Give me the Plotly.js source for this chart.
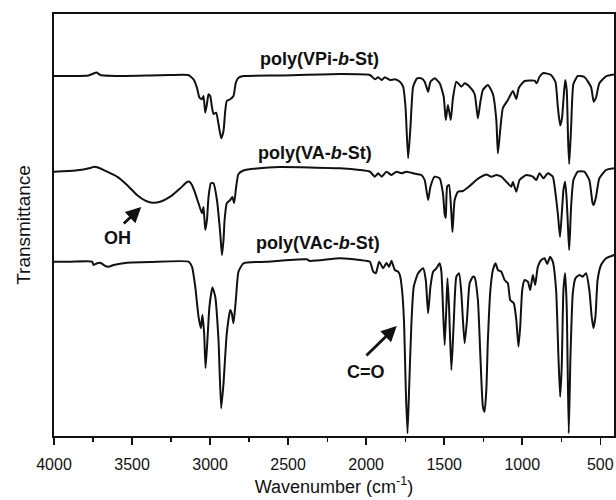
<!DOCTYPE html>
<html>
<head>
<meta charset="utf-8">
<script src="https://cdn.plot.ly/plotly-3.0.1.min.js"></script>
<style>html,body{margin:0;padding:0;background:#fff;}#chart{width:616px;height:500px;}</style>
</head>
<body>
<div id="chart"></div>
<script>
// Wavenumbers (cm-1) and transmittance (arbitrary, stacked) for each spectrum
const vpiWavenumber = [4000,3895,3779,3747,3728,3703,3575,3383,3255,3140,3106,3084,3068,3052,3042,3031,3020,3010,2999,2989,2978,2961,2946,2929,2914,2903,2893,2871,2850,2835,2818,2786,2552,2168,1976,1944,1923,1901,1880,1848,1816,1784,1763,1748,1731,1716,1699,1674,1646,1625,1603,1588,1561,1529,1503,1490,1476,1458,1444,1422,1390,1369,1337,1305,1284,1268,1252,1220,1188,1166,1156,1141,1124,1092,1060,1038,1022,985,921,907,889,864,815,787,772,757,745,736,725,715,706,699,687,672,644,602,559,542,527,506,463,410];
const vpiT = [360,360,360.5,362.5,363.5,361,360,360.5,361,361,356.7,348.3,338.3,336.7,340,323.3,332,341.7,340,330,322,323.3,312,297.7,305,325,335,336.7,340,353.3,358.3,360,360.5,362,361,356.7,358.7,356,358.7,356,356.7,354.3,349.3,329.3,277.7,309.3,349.3,357.7,357.7,354.3,344.3,354.3,357.7,352.7,339.3,316,331,316,337.7,354.3,349.3,352.7,349.3,342,317.7,334.3,346,351,342,316,282.7,306,328,336,345,337,348,355,355.3,352.7,359.3,363,361,354,329.3,310.5,318,336,356,346,296,272,308,352,360,359,349,334.3,338.5,352.7,359.7,361.5];

const vaWavenumber = [4000,3862,3767,3741,3722,3660,3596,3532,3468,3415,3372,3319,3255,3191,3148,3134,3116,3095,3074,3052,3042,3031,3020,3010,2995,2978,2956,2935,2924,2914,2907,2893,2871,2857,2846,2833,2818,2786,2701,2552,2168,2040,1976,1944,1923,1901,1870,1838,1806,1774,1742,1699,1646,1625,1603,1588,1561,1529,1508,1497,1490,1481,1469,1454,1447,1433,1412,1380,1337,1294,1262,1230,1198,1166,1134,1102,1070,1060,1038,1017,974,932,910,889,864,836,804,787,771,758,745,736,725,715,706,699,687,672,644,602,570,549,542,527,506,463,410];
const vaT = [264.3,265.5,268,269.3,268.7,264.3,259.3,251,241,235.3,233.3,234.3,239.3,247.7,254,254.5,251,242.7,232.7,222.7,229,206,216,239,252.7,252.7,236,203,181,196,216,232.7,236,239,232.7,249,262,265.5,267.5,269,267.7,266,264.3,259.3,262.7,259.3,264.3,261,264.3,262.7,264.3,262.7,261,256,236,249.3,259.3,257.7,242.7,222,218,249.3,251,222.7,204,236,244.3,245,250,256,259.3,261.5,259.3,261,259.3,254.3,249.3,254,244.3,256,261,259.3,256,262.7,257.7,262.7,259.3,242.7,221,199,226,246,254.3,236,206,186,229,256,264.3,264.3,256,232.7,231,239.3,257.7,266,267.7];

const vacWavenumber = [4000,3894,3756,3746,3724,3703,3671,3650,3618,3532,3383,3138,3116,3095,3074,3059,3049,3038,3029,3017,3004,2985,2967,2946,2929,2914,2893,2871,2861,2850,2835,2818,2786,2637,2381,2360,2168,2040,1976,1955,1938,1917,1891,1870,1853,1838,1816,1795,1784,1770,1757,1746,1735,1725,1710,1695,1667,1635,1618,1603,1588,1571,1550,1529,1518,1508,1497,1486,1479,1469,1454,1439,1422,1405,1390,1380,1369,1354,1337,1316,1305,1284,1268,1252,1241,1230,1220,1204,1188,1171,1156,1134,1113,1092,1077,1054,1038,1024,1013,1000,985,964,949,932,917,900,878,857,840,821,804,783,768,757,747,736,725,715,702,691,676,659,633,612,591,570,555,544,531,517,495,463,410];
const vacT = [174.3,174.3,174.3,171,172.7,173.3,170,169.3,171,173.3,174,174.3,169.3,149.3,119.3,107.7,121,102.7,68,96,129.3,148.5,139.3,96,27.7,52.7,102.7,126,122.7,112.7,136,164.3,172.7,174.3,176.7,175,177.7,176,174.3,164.3,162.7,174.3,167.7,173,169.3,175.3,166,164.3,161,146,112.7,46,2.7,46,112.7,149.3,162.7,167.7,156,122.7,149.3,164.3,167.7,172.7,164.3,129.3,91,129.3,157.7,129.3,66,112.7,159.3,162.7,142.7,116,92.7,116,152.7,159.3,158.7,136,79.3,29.3,24.3,46,96,146,166,172.7,166,164.3,156,152.7,136,132.7,116,89.3,109.3,146,156,154.3,146,161,151,169.3,176,177.7,172,179.3,174.3,146,79.3,39.3,69.3,146,162.7,129.3,2.7,79.3,142.7,157.7,161,159.3,162.7,146,119.3,107.7,119.3,156,171,177.7,181];

const seriesLabels = ['poly(VPi-<i>b</i>-St)', 'poly(VA-<i>b</i>-St)', 'poly(VAc-<i>b</i>-St)'];
const labelWavenumber = [2302, 2325, 2309];
const labelT = [377, 283, 193];
const bandLabels = ['OH', 'C=O'];
const bandLabelWavenumber = [3594, 2002];
const bandLabelT = [198, 64];
const arrowHeadWavenumber = [3441, 1804];
const arrowHeadT = [229, 110];
const arrowTailWavenumber = [3562, 2008];
const arrowTailT = [211, 79];

const FONT = 'Liberation Sans, Arial, Helvetica, sans-serif';
const lineStyle = {color: '#111', width: 2, shape: 'spline', smoothing: 0.5};

const traces = [
  {x: vpiWavenumber, y: vpiT, mode: 'lines', line: lineStyle, name: 'VPi'},
  {x: vaWavenumber, y: vaT, mode: 'lines', line: lineStyle, name: 'VA'},
  {x: vacWavenumber, y: vacT, mode: 'lines', line: lineStyle, name: 'VAc'}
];

const annotations = [];
seriesLabels.forEach((t, i) => annotations.push({
  x: labelWavenumber[i], y: labelT[i], xref: 'x', yref: 'y', text: '<b>' + t + '</b>',
  showarrow: false, font: {family: FONT, size: 18, color: '#111'}
}));
bandLabels.forEach((t, i) => {
  annotations.push({
    x: bandLabelWavenumber[i], y: bandLabelT[i], xref: 'x', yref: 'y', text: '<b>' + t + '</b>',
    showarrow: false, font: {family: FONT, size: 18, color: '#111'}
  });
  annotations.push({
    x: arrowHeadWavenumber[i], y: arrowHeadT[i], ax: arrowTailWavenumber[i], ay: arrowTailT[i],
    xref: 'x', yref: 'y', axref: 'x', ayref: 'y', text: '', showarrow: true,
    arrowhead: 2, arrowsize: 1.1, arrowwidth: 2.8, arrowcolor: '#111'
  });
});

const layout = {
  width: 616, height: 500,
  margin: {l: 54, r: 2, t: 14, b: 64},
  paper_bgcolor: '#fff', plot_bgcolor: '#fff',
  showlegend: false,
  font: {family: FONT, color: '#111'},
  xaxis: {
    range: [4000, 412], tick0: 0, dtick: 500,
    showline: true, mirror: true, linecolor: '#111', linewidth: 2,
    ticks: 'outside', ticklen: 7, tickwidth: 1.5, tickcolor: '#111',
    minor: {dtick: 250, ticks: 'outside', ticklen: 4, tickwidth: 1.2, tickcolor: '#111'},
    showgrid: false, zeroline: false,
    tickfont: {family: FONT, size: 16, color: '#111'},
    ticklabelstandoff: 6,
    title: {text: 'Wavenumber (cm<sup>-1</sup>)', font: {family: FONT, size: 18, color: '#111'}, standoff: 8}
  },
  yaxis: {
    range: [0, 422],
    showline: true, mirror: true, linecolor: '#111', linewidth: 2,
    ticks: '', showticklabels: false, showgrid: false, zeroline: false,
    title: {text: 'Transmittance', font: {family: FONT, size: 19, color: '#111'}, standoff: 16}
  },
  annotations: annotations
};

Plotly.newPlot('chart', traces, layout, {displayModeBar: false, staticPlot: true});
</script>
</body>
</html>
